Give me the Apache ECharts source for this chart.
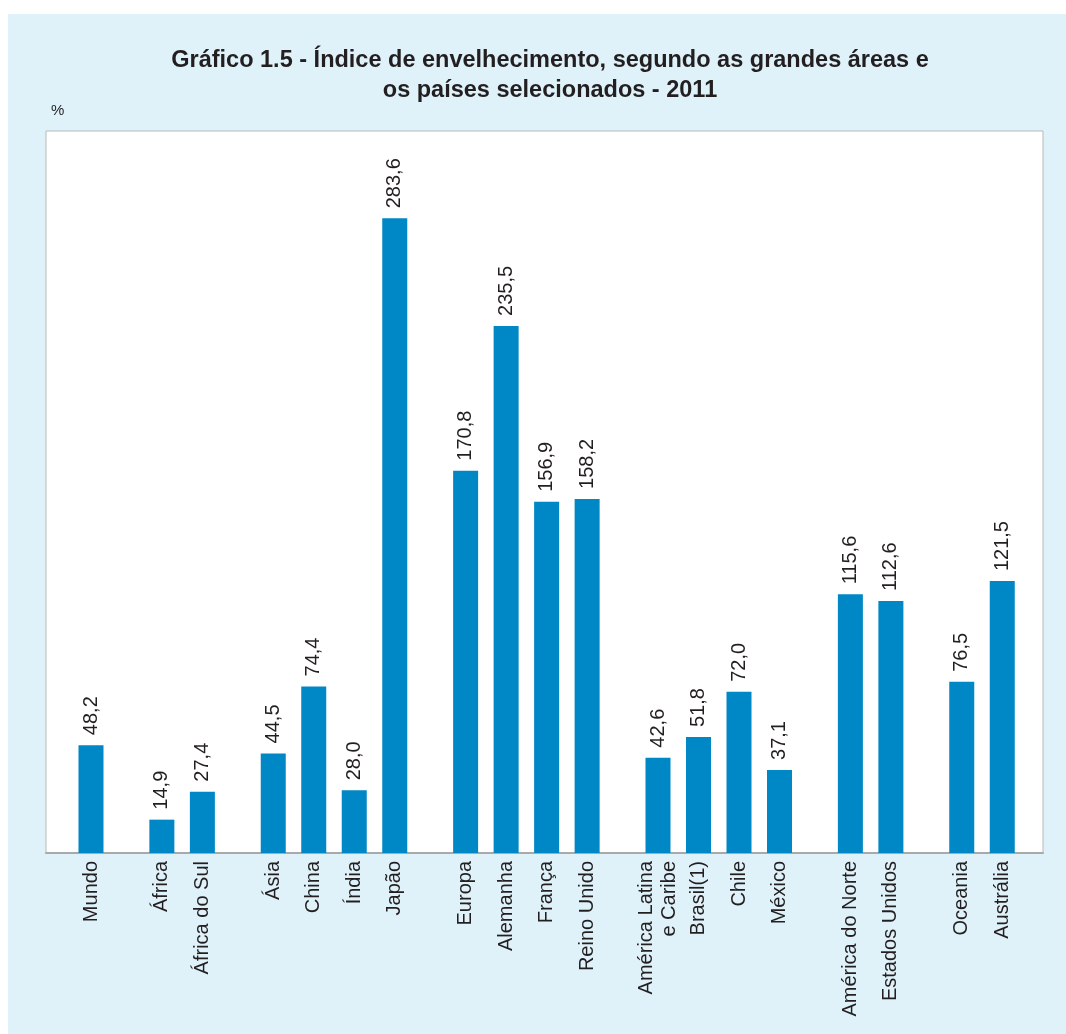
<!DOCTYPE html>
<html>
<head>
<meta charset="utf-8">
<script src="https://cdn.jsdelivr.net/npm/echarts@6/dist/echarts.min.js"></script>
<style>
  html, body { margin: 0; padding: 0; background: #ffffff; }
  #panel { position: absolute; left: 8px; top: 14px; width: 1058px; height: 1020px; background: #dff2fa; }
  #chart { position: absolute; left: 0; top: 0; width: 1066px; height: 1034px; }
</style>
</head>
<body>
<div id="panel"></div>
<div id="chart"></div>
<script>
// Índice de envelhecimento, 2011
const categories = [
  'Mundo',
  'África', 'África do Sul',
  'Ásia', 'China', 'Índia', 'Japão',
  'Europa', 'Alemanha', 'França', 'Reino Unido',
  'América Latina\ne Caribe', 'Brasil(1)', 'Chile', 'México',
  'América do Norte', 'Estados Unidos',
  'Oceania', 'Austrália'
];
const values = [
  48.2,
  14.9, 27.4,
  44.5, 74.4, 28.0, 283.6,
  170.8, 235.5, 156.9, 158.2,
  42.6, 51.8, 72.0, 37.1,
  115.6, 112.6,
  76.5, 121.5
];
// region group each category belongs to (a blank space separates groups)
const groups = [0, 1, 1, 2, 2, 2, 2, 3, 3, 3, 3, 4, 4, 4, 4, 5, 5, 6, 6];

// x position along the axis: one unit per bar plus extra space between groups
const GROUP_GAP = 0.75;
const positions = categories.map((c, i) => i + groups[i] * GROUP_GAP);
const nameAt = new Map(positions.map((p, i) => [p, categories[i]]));

const fmt = v => v.toFixed(1).replace('.', ',');
const TEXT = '#231f20';
const FONT = '"Liberation Sans", Arial, Helvetica, sans-serif';

const chart = echarts.init(document.getElementById('chart'), null, { renderer: 'canvas' });
chart.setOption({
  backgroundColor: 'transparent',
  animation: false,
  textStyle: { fontFamily: FONT },
  title: {
    text: 'Gráfico 1.5 - Índice de envelhecimento, segundo as grandes áreas e\nos países selecionados - 2011',
    left: 545,
    top: 41,
    textAlign: 'center',
    textStyle: { fontFamily: FONT, fontSize: 23.5, fontWeight: 'bold', color: TEXT, lineHeight: 30 }
  },
  graphic: [{
    type: 'text',
    left: 51,
    top: 103,
    style: { text: '%', fontFamily: FONT, fontSize: 15, fill: TEXT }
  }],
  grid: {
    left: 46, right: 23, top: 131, bottom: 181,
    show: true,
    backgroundColor: '#ffffff',
    borderColor: '#b9b9b9',
    borderWidth: 1
  },
  xAxis: {
    type: 'value',
    min: -1.111,
    max: 23.506,
    splitLine: { show: false },
    axisLine: { show: true, onZero: false, lineStyle: { color: '#a9a9a9', width: 2 } },
    axisTick: { show: false },
    axisLabel: {
      customValues: positions,
      rotate: 90,
      margin: 8,
      fontSize: 20,
      color: TEXT,
      fontFamily: FONT,
      lineHeight: 23,
      formatter: v => nameAt.get(v) || ''
    }
  },
  yAxis: {
    type: 'value',
    min: 0,
    max: 322.6,
    show: false,
    splitLine: { show: false }
  },
  series: [{
    type: 'bar',
    barWidth: 25,
    data: positions.map((p, i) => [p, values[i]]),
    itemStyle: { color: '#0087c5' },
    label: {
      show: true,
      position: 'top',
      rotate: 90,
      align: 'left',
      verticalAlign: 'middle',
      distance: 10,
      fontSize: 20,
      color: TEXT,
      fontFamily: FONT,
      formatter: p => fmt(p.value[1])
    }
  }]
});
</script>
</body>
</html>
